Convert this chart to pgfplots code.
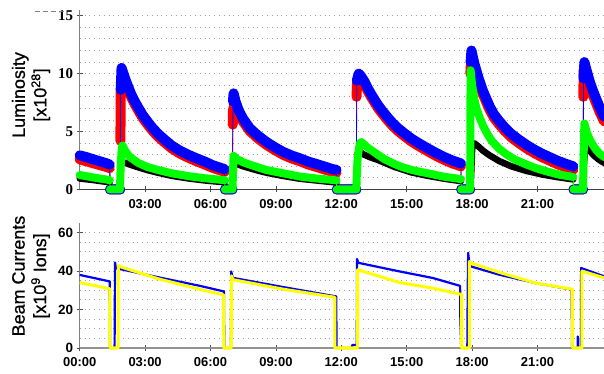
\documentclass[border=0pt]{standalone}
\usepackage{fontspec}
\setmainfont{Liberation Sans}
\newfontfamily\tnr{Liberation Serif}
\newfontfamily\lbl[FakeBold=0.8]{Liberation Sans}
\usepackage{pgfplots}
\pgfplotsset{compat=1.18}
\usepackage{pgfplotstable}

\pgfplotstableread{
t v
0 2.95
0.3 2.8
0.6 2.62
0.9 2.45
1.2 2.28
1.38 2.15
nan nan
1.39 0
1.86 0
nan nan
1.88 8.6
1.92 10.5
2.0 10.05
2.08 9.6
2.2 9.0
2.37 8.2
2.5 7.7
2.68 7.1
2.9 6.4
3.14 5.8
3.35 5.3
3.6 4.8
3.9 4.3
4.22 3.8
4.6 3.35
4.98 3.0
5.35 2.7
5.75 2.4
6.1 2.1
6.5 1.85
6.65 1.75
nan nan
6.66 0
7.01 0
nan nan
7.03 7.6
7.06 8.3
7.15 7.6
7.3 6.8
7.5 6.1
7.8 5.3
8.15 4.7
8.57 4.1
9.0 3.6
9.33 3.25
9.7 2.95
10.09 2.7
10.5 2.4
10.86 2.2
11.25 1.97
11.62 1.75
11.78 1.7
nan nan
11.79 0
12.69 0
nan nan
12.71 9.4
12.8 10.0
12.9 9.8
13.07 9.3
13.2 8.8
13.38 8.2
13.68 7.3
13.9 6.75
14.14 6.2
14.35 5.75
14.6 5.3
14.9 4.85
15.21 4.4
15.6 3.95
15.97 3.55
16.35 3.15
16.73 2.8
17.1 2.5
17.49 2.25
nan nan
17.5 0
17.91 0
nan nan
17.93 11.0
17.97 12.0
18.1 10.9
18.3 9.6
18.5 8.5
18.8 7.2
19.0 6.5
19.25 5.9
19.5 5.35
19.8 4.8
20.15 4.3
20.5 3.85
20.85 3.45
21.2 3.1
21.55 2.8
21.9 2.5
22.25 2.25
22.64 2.0
nan nan
22.65 0
23.09 0
nan nan
23.11 9.6
23.15 11.0
23.25 10.3
23.4 9.3
23.55 8.5
23.7 7.8
23.85 7.1
24.05 6.3
}\lumblue

\pgfplotstableread{
t v
0 2.6
0.3 2.45
0.6 2.28
0.9 2.12
1.2 1.96
1.38 1.85
nan nan
1.39 0
1.85 0
nan nan
1.87 4.2
1.875 8.3
1.95 9.8
2.0 9.75
2.08 9.35
2.2 8.75
2.37 7.95
2.5 7.45
2.68 6.85
2.9 6.15
3.14 5.55
3.35 5.05
3.6 4.55
3.9 4.05
4.22 3.55
4.6 3.1
4.98 2.75
5.35 2.45
5.75 2.15
6.1 1.87
6.5 1.62
6.65 1.52
nan nan
6.66 0
7.0 0
nan nan
7.02 5.6
7.03 6.8
7.1 7.4
7.15 7.3
7.3 6.55
7.5 5.85
7.8 5.05
8.15 4.45
8.57 3.85
9.0 3.35
9.33 3.0
9.7 2.7
10.09 2.45
10.5 2.15
10.86 1.95
11.25 1.72
11.62 1.5
11.78 1.45
nan nan
11.79 0
12.69 0
nan nan
12.7 8.0
12.72 9.2
12.8 9.75
12.9 9.55
13.07 9.05
13.2 8.55
13.38 7.95
13.68 7.05
13.9 6.5
14.14 5.95
14.35 5.5
14.6 5.05
14.9 4.6
15.21 4.15
15.6 3.7
15.97 3.3
16.35 2.9
16.73 2.55
17.1 2.25
17.49 2.0
nan nan
17.5 0
17.91 0
nan nan
17.92 10.0
17.96 11.5
18.1 10.6
18.3 9.3
18.5 8.2
18.8 6.9
19.0 6.2
19.25 5.6
19.5 5.05
19.8 4.5
20.15 4.0
20.5 3.55
20.85 3.15
21.2 2.8
21.55 2.5
21.9 2.2
22.25 1.95
22.64 1.7
nan nan
22.65 0
23.09 0
nan nan
23.1 8.0
23.12 10.3
23.25 9.9
23.4 8.9
23.55 8.1
23.7 7.4
23.85 6.7
24.05 5.9
}\lumred

\pgfplotstableread{
t v
0 1.25
0.3 1.15
0.6 1.05
0.9 0.95
1.2 0.87
1.38 0.8
nan nan
1.39 0
1.85 0
1.86 0.8
1.88 2.0
1.92 3.3
1.96 3.8
2.08 3.35
2.3 2.8
2.68 2.3
3.1 1.95
3.52 1.72
4.22 1.4
5.0 1.15
5.75 0.97
6.3 0.87
6.65 0.8
nan nan
6.66 0
7.01 0
7.03 1.5
7.06 2.9
7.2 2.65
7.5 2.35
7.8 2.15
8.2 1.9
8.57 1.68
9.33 1.4
10.09 1.12
10.86 0.95
11.62 0.82
11.78 0.78
nan nan
11.79 0
12.69 0
12.71 1.2
12.75 2.8
12.85 4.0
12.92 4.1
13.22 3.6
13.68 3.0
14.0 2.6
14.44 2.2
14.8 1.93
15.21 1.7
15.6 1.53
15.97 1.4
16.35 1.25
16.73 1.1
17.1 1.0
17.49 0.9
nan nan
17.5 0
17.91 0
17.93 10.3
18.0 9.0
18.1 7.8
18.2 7.0
18.35 6.2
18.5 5.5
18.7 4.8
18.9 4.2
19.25 3.5
19.6 3.0
20.0 2.55
20.5 2.15
21.0 1.8
21.5 1.52
22.0 1.28
22.64 1.08
nan nan
22.65 0
23.09 0
23.11 2.5
23.15 5.7
23.25 5.0
23.4 4.3
23.55 3.8
23.7 3.4
23.85 3.1
24.05 2.8
}\lumgreen

\pgfplotstableread{
t v
0 0.95
0.6 0.82
1.38 0.62
nan nan
1.39 0
1.86 0
nan nan
1.87 2.2
1.95 2.35
2.1 2.3
2.3 2.15
2.68 1.92
3.1 1.68
3.52 1.48
4.22 1.18
5.0 0.95
5.75 0.78
6.65 0.62
nan nan
6.66 0
7.02 0
nan nan
7.04 2.2
7.15 2.25
7.5 2.0
8.2 1.62
8.57 1.45
9.33 1.17
10.09 0.93
10.86 0.78
11.78 0.6
nan nan
11.79 0
12.7 0
nan nan
12.72 3.0
12.85 3.25
13.0 3.05
13.3 2.8
13.68 2.55
14.44 1.95
15.21 1.48
15.97 1.18
16.73 0.93
17.49 0.72
nan nan
17.5 0
17.92 0
nan nan
17.95 1.0
18.0 3.5
18.1 4.0
18.3 3.7
18.5 3.35
18.8 2.95
19.25 2.45
19.8 2.0
20.5 1.6
21.2 1.3
21.9 1.07
22.64 0.87
nan nan
22.65 0
23.1 0
nan nan
23.12 2.0
23.2 3.8
23.35 3.5
23.55 3.0
23.8 2.6
24.05 2.3
}\lumblack

\pgfplotstableread{
t v
0 38
0.7 36.3
1.38 34.6
1.39 0
1.6 0
1.62 44.5
1.66 41.5
3.6 36.8
5.52 32.3
6.62 29.4
6.63 0
6.94 0
6.95 39.8
7.02 36.5
9.33 31.7
11.77 26.8
11.78 0
12.5 0
12.5 1.6
12.71 1.6
12.72 46.3
12.78 44.3
14.68 39.8
16.2 36.4
17.45 32.3
17.46 16
17.5 0
17.78 0
17.8 32
17.82 49.5
17.88 43
17.95 42.4
19.25 38.1
20.93 33.7
22.57 30.4
22.58 0
22.84 0
22.85 6
22.86 0
22.99 0
23.0 41.6
24.05 37.3
}\curblue

\pgfplotstableread{
t v
0 34
0.7 32.4
1.38 30.8
1.39 0
1.76 0
1.77 43
1.85 42.3
3.6 36.0
5.52 30.5
6.6 27.6
6.61 0
6.95 0
6.96 37.5
7.04 35.5
9.33 30.6
11.7 26.4
11.71 0
12.74 0
12.75 40.7
14.68 34.0
16.2 31.1
17.45 28
17.52 28
17.52 0
17.87 0
17.88 45
17.95 44.2
19.25 39.3
20.93 33.7
22.6 30.6
22.61 0
23.03 0
23.04 40
24.05 36.5
}\curyellow

\definecolor{cblue}{RGB}{0,0,255}
\definecolor{cred}{RGB}{255,0,0}
\definecolor{cgreen}{RGB}{0,255,0}
\definecolor{cyell}{RGB}{255,255,0}

\pgfplotsset{
  panel/.style={
    scale only axis, width=524.3bp,
    xmin=0, xmax=24.05,
    axis x line=bottom, axis y line=left,
    axis line style={-},
    y axis line style={draw=gray, line width=1.3bp},
    tick align=center, major tick length=6bp, minor tick length=0pt,
    tick style={draw=gray!60!black, line width=0.7bp},
    ymajorgrids, yminorgrids,
    major grid style={draw=gray!75, dash pattern=on 0.9bp off 3.9bp, line width=0.9bp},
    minor grid style={draw=gray!75, dash pattern=on 0.9bp off 3.9bp, line width=0.9bp},
    clip=false,
    xticklabel style={font=\bfseries\fontsize{13}{13}\selectfont, yshift=-3bp},
  },
  thin/.style={line width=0.8bp, unbounded coords=discard, no markers},
  thick/.style={line width=#1, line cap=round, line join=round, unbounded coords=jump, no markers},
}

\begin{document}
\begin{tikzpicture}
\useasboundingbox (0,0) rectangle (604bp,374bp);

\begin{axis}[panel,
  at={(79.7bp,184.5bp)}, anchor=south west,
  height=179.5bp,
  ymin=0, ymax=15.5,
  ytick={0,5,10,15}, yticklabels={0,5,10,15},
  minor y tick num=4,
  yticklabel style={font=\tnr\bfseries\fontsize{15}{15}\selectfont},
  xtick={3,6,9,12,15,18,21},
  xticklabels={03:00,06:00,09:00,12:00,15:00,18:00,21:00},
  x axis line style={draw=gray!50!black, line width=1bp},
]
\addplot[cred, thin] table[x=t,y=v] {\lumred};
\addplot[cred, thick=10bp] table[x=t,y=v] {\lumred};
\addplot[cblue, thin] table[x=t,y=v] {\lumblue};
\addplot[cblue, thick=10bp] table[x=t,y=v] {\lumblue};
\addplot[black, thin] table[x=t,y=v] {\lumblack};
\addplot[black, thick=6.5bp] table[x=t,y=v] {\lumblack};
\addplot[cgreen, thin] table[x=t,y=v] {\lumgreen};
\addplot[cgreen, thick=8bp] table[x=t,y=v] {\lumgreen};
\end{axis}

\begin{axis}[panel,
  at={(79.7bp,26bp)}, anchor=south west,
  height=125bp,
  ymin=0, ymax=65,
  ytick={0,20,40,60}, yticklabels={0,20,40,60},
  minor y tick num=3,
  yticklabel style={font=\bfseries\fontsize{13.5}{13.5}\selectfont},
  xtick={0,3,6,9,12,15,18,21},
  xticklabels={00:00,03:00,06:00,09:00,12:00,15:00,18:00,21:00},
  x axis line style={draw=gray!85, line width=2.6bp},
]
\addplot[cblue, line width=2.2bp, line join=round, no markers] table[x=t,y=v] {\curblue};
\addplot[cyell, line width=3bp, line join=round, no markers] table[x=t,y=v] {\curyellow};
\end{axis}

\node[rotate=90, align=center, font=\lbl\fontsize{18}{21.6}\selectfont] at (31bp,279bp)
  {Luminosity\\{}[x10\textsuperscript{28}]};
\node[rotate=90, align=center, font=\lbl\fontsize{18}{21.6}\selectfont] at (31bp,98bp)
  {Beam Currents\\{}[x10\textsuperscript{9} Ions]};
\draw[gray, dash pattern=on 5bp off 3bp, line width=0.7bp] (35bp,362.5bp) -- (66bp,362.5bp);
\end{tikzpicture}
\end{document}
